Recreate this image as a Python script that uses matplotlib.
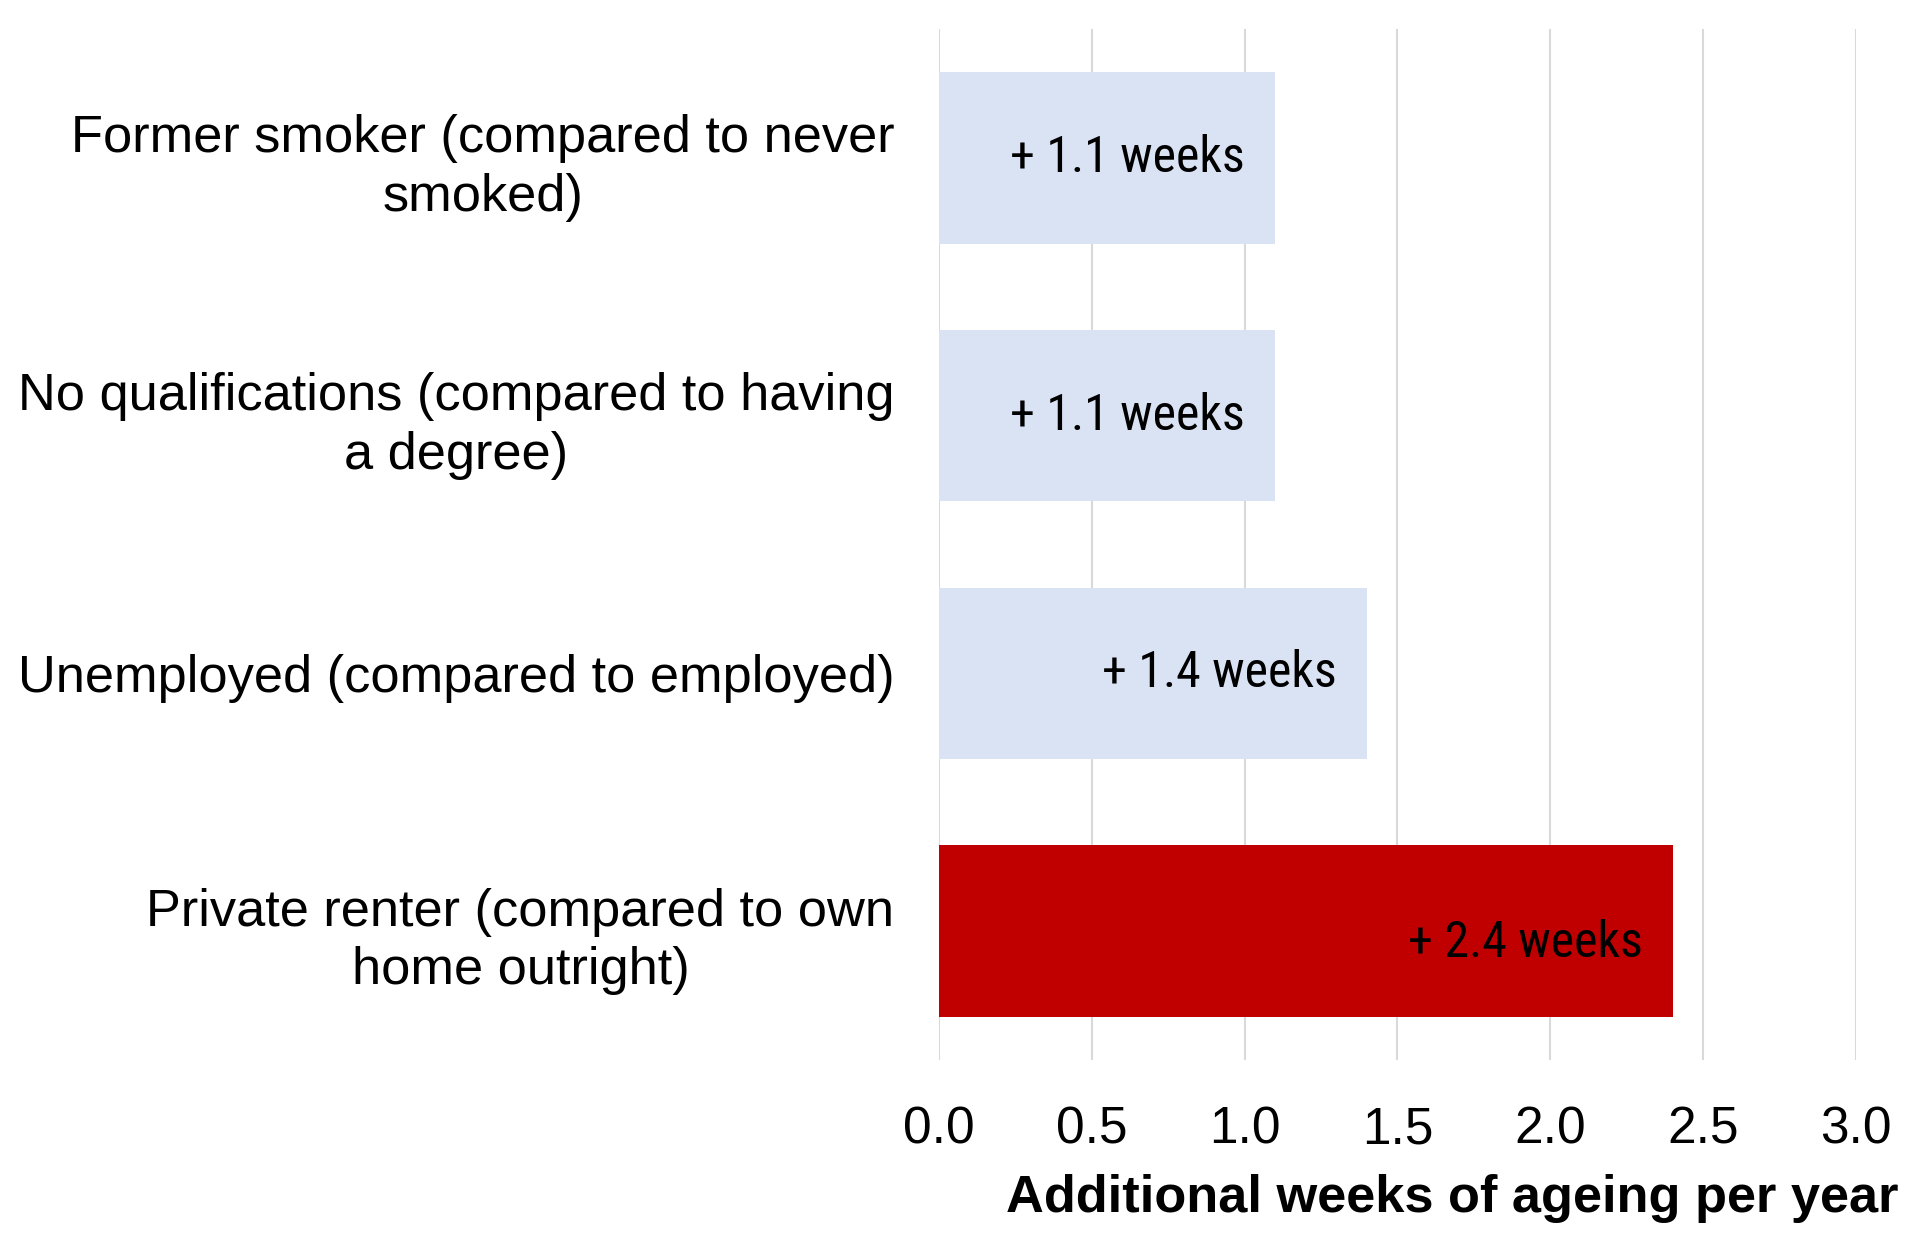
import matplotlib
matplotlib.use("Agg")
import matplotlib.pyplot as plt

# Data
categories = [
    "Former smoker (compared to never\nsmoked)",
    "No qualifications (compared to having\na degree)",
    "Unemployed (compared to employed)",
    "Private renter (compared to own\nhome outright)",
]
weeks = [1.1, 1.1, 1.4, 2.4]
bar_labels = ["+ 1.1 weeks", "+ 1.1 weeks", "+ 1.4 weeks", "+ 2.4 weeks"]
bar_colors = ["#DAE3F3", "#DAE3F3", "#DAE3F3", "#C00000"]
x_ticks = [0.0, 0.5, 1.0, 1.5, 2.0, 2.5, 3.0]

plt.rcParams['font.family'] = ['Liberation Sans', 'DejaVu Sans']

# a narrow face for the in-bar labels, first one that exists wins
narrow = ['Liberation Sans Narrow', 'Roboto Condensed', 'Open Sans Condensed',
          'Liberation Sans', 'DejaVu Sans']

fig = plt.figure(figsize=(19.2, 12.54), dpi=100)
ax = fig.add_axes([0.489, 0.1547, 0.4777, 0.8222])

pos = list(range(len(categories)))
ax.barh(pos, weeks, height=0.665, color=bar_colors, zorder=2)

# value labels, right aligned inside the bars
for i, (v, lab) in enumerate(zip(weeks, bar_labels)):
    dy = -12 if i == 3 else 0
    ax.annotate(lab, xy=(v, i), xytext=(-30, dy), textcoords='offset pixels',
                ha='right', va='center', fontsize=36, family=narrow,
                color='black', zorder=3)

ax.set_xlim(0, 3.0)
ax.set_ylim(3.5, -0.5)
ax.set_xticks(x_ticks)
ax.set_xticklabels([f"{t:.1f}" for t in x_ticks])
ax.set_yticks(pos)
ax.set_yticklabels(categories, multialignment='center', linespacing=1.25)

ax.tick_params(axis='x', length=0, pad=33, labelsize=37)
ax.tick_params(axis='y', length=0, pad=32, labelsize=37.7)

ax.grid(axis='x', color='#D9D9D9', linewidth=1.5, zorder=0)
ax.set_axisbelow(True)
for s in ax.spines.values():
    s.set_visible(False)

fig.text(1898 / 1920, 1 - 1212 / 1254, "Additional weeks of ageing per year",
         ha='right', va='baseline', fontsize=37.7, fontweight='bold')

fig.savefig("out.png", dpi=100)
